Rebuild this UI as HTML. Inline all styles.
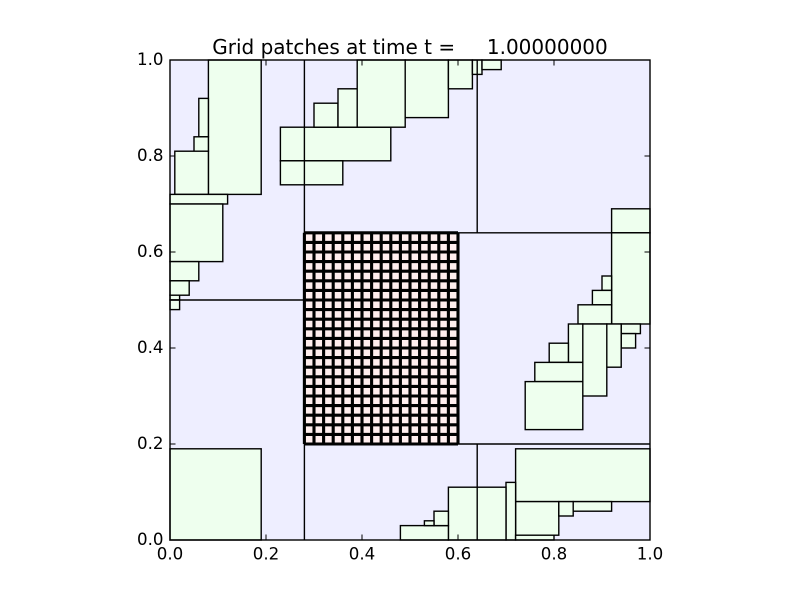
<!DOCTYPE html>
<html><head><meta charset="utf-8"><style>
html,body{margin:0;padding:0;background:#fff;}
svg{display:block;}
text{font-family:"DejaVu Sans","Liberation Sans",sans-serif;fill:#000;}
</style></head><body>
<svg width="800" height="600" viewBox="0 0 800 600" xmlns="http://www.w3.org/2000/svg">
<rect x="0" y="0" width="800" height="600" fill="#fff"/>
<rect x="170" y="60" width="480" height="480" fill="#eeeeff"/>
<g fill="#eeffee" stroke="#000" stroke-width="1.4">
<rect x="208.4" y="60" width="52.8" height="134.4"/>
<rect x="198.8" y="98.4" width="9.6" height="38.4"/>
<rect x="194" y="136.8" width="14.4" height="14.4"/>
<rect x="174.8" y="151.2" width="33.6" height="43.2"/>
<rect x="170" y="194.4" width="57.6" height="9.6"/>
<rect x="170" y="204" width="52.8" height="57.6"/>
<rect x="170" y="261.6" width="28.8" height="19.2"/>
<rect x="170" y="280.8" width="19.2" height="14.4"/>
<rect x="170" y="295.2" width="9.6" height="4.8"/>
<rect x="170" y="300" width="9.6" height="9.6"/>
<rect x="280.4" y="127.2" width="110.4" height="33.6"/>
<rect x="280.4" y="160.8" width="62.4" height="24"/>
<rect x="314" y="103.2" width="24" height="24"/>
<rect x="338" y="88.8" width="19.2" height="38.4"/>
<rect x="357.2" y="60" width="48" height="67.2"/>
<rect x="405.2" y="60" width="43.2" height="57.6"/>
<rect x="448.4" y="60" width="24" height="28.8"/>
<rect x="472.4" y="60" width="9.6" height="14.4"/>
<rect x="482" y="60" width="19.2" height="9.6"/>
<rect x="611.6" y="208.8" width="38.4" height="24"/>
<rect x="611.6" y="232.8" width="38.4" height="91.2"/>
<rect x="602" y="276" width="9.6" height="14.4"/>
<rect x="592.4" y="290.4" width="19.2" height="14.4"/>
<rect x="578" y="304.8" width="33.6" height="19.2"/>
<rect x="621.2" y="324" width="19.2" height="9.6"/>
<rect x="621.2" y="333.6" width="14.4" height="14.4"/>
<rect x="606.8" y="324" width="14.4" height="43.2"/>
<rect x="582.8" y="324" width="24" height="72"/>
<rect x="568.4" y="324" width="14.4" height="38.4"/>
<rect x="549.2" y="343.2" width="19.2" height="19.2"/>
<rect x="534.8" y="362.4" width="48" height="19.2"/>
<rect x="525.2" y="381.6" width="57.6" height="48"/>
<rect x="515.6" y="448.8" width="134.4" height="52.8"/>
<rect x="515.6" y="501.6" width="43.2" height="33.6"/>
<rect x="558.8" y="501.6" width="14.4" height="14.4"/>
<rect x="573.2" y="501.6" width="38.4" height="9.6"/>
<rect x="506" y="482.4" width="9.6" height="57.6"/>
<rect x="448.4" y="487.2" width="57.6" height="52.8"/>
<rect x="400.4" y="525.6" width="48" height="14.4"/>
<rect x="434" y="511.2" width="14.4" height="14.4"/>
<rect x="424.4" y="520.8" width="9.6" height="4.8"/>
<rect x="515.6" y="535.2" width="38.4" height="4.8"/>
<rect x="170" y="448.8" width="91.2" height="91.2"/>
</g>
<g stroke="#000" stroke-width="1.4" fill="none">
<line x1="304.4" y1="60" x2="304.4" y2="540"/>
<line x1="170" y1="300" x2="304.4" y2="300"/>
<line x1="477.2" y1="60" x2="477.2" y2="232.8"/>
<line x1="477.2" y1="444" x2="477.2" y2="540"/>
<line x1="304.4" y1="232.8" x2="650" y2="232.8"/>
<line x1="304.4" y1="444" x2="650" y2="444"/>
</g>
<rect x="304.4" y="232.8" width="153.6" height="211.2" fill="#ffeeee"/>
<g stroke="#000" stroke-width="3.1">
<line x1="304.4" y1="232.8" x2="304.4" y2="444"/>
<line x1="314" y1="232.8" x2="314" y2="444"/>
<line x1="323.6" y1="232.8" x2="323.6" y2="444"/>
<line x1="333.2" y1="232.8" x2="333.2" y2="444"/>
<line x1="342.8" y1="232.8" x2="342.8" y2="444"/>
<line x1="352.4" y1="232.8" x2="352.4" y2="444"/>
<line x1="362" y1="232.8" x2="362" y2="444"/>
<line x1="371.6" y1="232.8" x2="371.6" y2="444"/>
<line x1="381.2" y1="232.8" x2="381.2" y2="444"/>
<line x1="390.8" y1="232.8" x2="390.8" y2="444"/>
<line x1="400.4" y1="232.8" x2="400.4" y2="444"/>
<line x1="410" y1="232.8" x2="410" y2="444"/>
<line x1="419.6" y1="232.8" x2="419.6" y2="444"/>
<line x1="429.2" y1="232.8" x2="429.2" y2="444"/>
<line x1="438.8" y1="232.8" x2="438.8" y2="444"/>
<line x1="448.4" y1="232.8" x2="448.4" y2="444"/>
<line x1="458" y1="232.8" x2="458" y2="444"/>
<line x1="304.4" y1="232.8" x2="458" y2="232.8"/>
<line x1="304.4" y1="242.4" x2="458" y2="242.4"/>
<line x1="304.4" y1="252" x2="458" y2="252"/>
<line x1="304.4" y1="261.6" x2="458" y2="261.6"/>
<line x1="304.4" y1="271.2" x2="458" y2="271.2"/>
<line x1="304.4" y1="280.8" x2="458" y2="280.8"/>
<line x1="304.4" y1="290.4" x2="458" y2="290.4"/>
<line x1="304.4" y1="300" x2="458" y2="300"/>
<line x1="304.4" y1="309.6" x2="458" y2="309.6"/>
<line x1="304.4" y1="319.2" x2="458" y2="319.2"/>
<line x1="304.4" y1="328.8" x2="458" y2="328.8"/>
<line x1="304.4" y1="338.4" x2="458" y2="338.4"/>
<line x1="304.4" y1="348" x2="458" y2="348"/>
<line x1="304.4" y1="357.6" x2="458" y2="357.6"/>
<line x1="304.4" y1="367.2" x2="458" y2="367.2"/>
<line x1="304.4" y1="376.8" x2="458" y2="376.8"/>
<line x1="304.4" y1="386.4" x2="458" y2="386.4"/>
<line x1="304.4" y1="396" x2="458" y2="396"/>
<line x1="304.4" y1="405.6" x2="458" y2="405.6"/>
<line x1="304.4" y1="415.2" x2="458" y2="415.2"/>
<line x1="304.4" y1="424.8" x2="458" y2="424.8"/>
<line x1="304.4" y1="434.4" x2="458" y2="434.4"/>
<line x1="304.4" y1="444" x2="458" y2="444"/>
</g>
<g stroke="#000" stroke-width="1">
<line x1="170" y1="540" x2="170" y2="534.5"/><line x1="266" y1="540" x2="266" y2="534.5"/><line x1="362" y1="540" x2="362" y2="534.5"/><line x1="458" y1="540" x2="458" y2="534.5"/><line x1="554" y1="540" x2="554" y2="534.5"/><line x1="650" y1="540" x2="650" y2="534.5"/>
<line x1="170" y1="60" x2="170" y2="65.5"/><line x1="266" y1="60" x2="266" y2="65.5"/><line x1="362" y1="60" x2="362" y2="65.5"/><line x1="458" y1="60" x2="458" y2="65.5"/><line x1="554" y1="60" x2="554" y2="65.5"/><line x1="650" y1="60" x2="650" y2="65.5"/>
<line x1="170" y1="540" x2="175.5" y2="540"/><line x1="170" y1="444" x2="175.5" y2="444"/><line x1="170" y1="348" x2="175.5" y2="348"/><line x1="170" y1="252" x2="175.5" y2="252"/><line x1="170" y1="156" x2="175.5" y2="156"/><line x1="170" y1="60" x2="175.5" y2="60"/>
<line x1="650" y1="540" x2="644.5" y2="540"/><line x1="650" y1="444" x2="644.5" y2="444"/><line x1="650" y1="348" x2="644.5" y2="348"/><line x1="650" y1="252" x2="644.5" y2="252"/><line x1="650" y1="156" x2="644.5" y2="156"/><line x1="650" y1="60" x2="644.5" y2="60"/>
</g>
<rect x="170" y="60" width="480" height="480" fill="none" stroke="#000" stroke-width="1.4"/>
<g font-size="16.67" text-anchor="middle">
<text x="170" y="559.5">0.0</text>
<text x="266" y="559.5">0.2</text>
<text x="362" y="559.5">0.4</text>
<text x="458" y="559.5">0.6</text>
<text x="554" y="559.5">0.8</text>
<text x="650" y="559.5">1.0</text>
</g>
<g font-size="16.67" text-anchor="end">
<text x="163.5" y="545">0.0</text>
<text x="163.5" y="449">0.2</text>
<text x="163.5" y="353">0.4</text>
<text x="163.5" y="257">0.6</text>
<text x="163.5" y="161">0.8</text>
<text x="163.5" y="65">1.0</text>
</g>
<text x="410" y="54" font-size="20" text-anchor="middle" xml:space="preserve" style="white-space:pre">Grid patches at time t =     1.00000000</text>
</svg>
</body></html>
